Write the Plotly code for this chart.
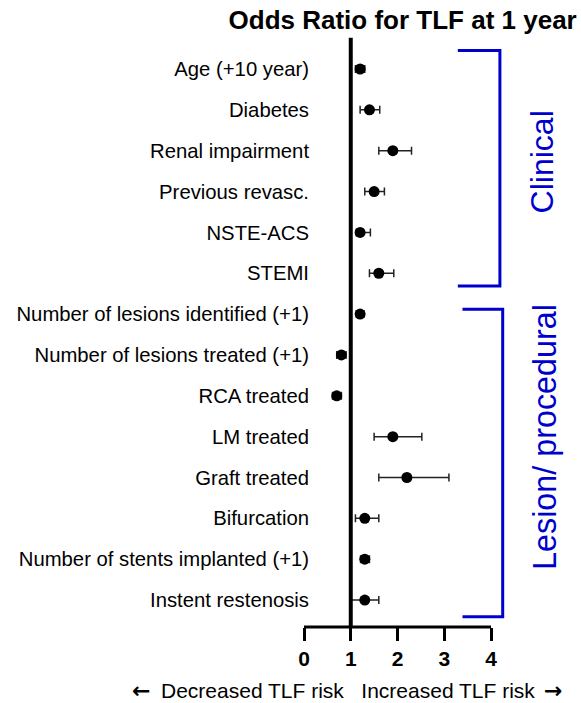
import plotly.graph_objects as go

# Risk factors (top to bottom) with odds ratio and 95% CI
factors = [
    "Age (+10 year)",
    "Diabetes",
    "Renal impairment",
    "Previous revasc.",
    "NSTE-ACS",
    "STEMI",
    "Number of lesions identified (+1)",
    "Number of lesions treated (+1)",
    "RCA treated",
    "LM treated",
    "Graft treated",
    "Bifurcation",
    "Number of stents implanted (+1)",
    "Instent restenosis",
]
odds_ratio = [1.2, 1.4, 1.9, 1.5, 1.2, 1.6, 1.2, 0.8, 0.7, 1.9, 2.2, 1.3, 1.3, 1.3]
ci_low = [1.1, 1.2, 1.6, 1.3, 1.12, 1.4, 1.12, 0.7, 0.61, 1.5, 1.6, 1.1, 1.21, 1.0]
ci_high = [1.3, 1.62, 2.3, 1.72, 1.42, 1.92, 1.28, 0.9, 0.8, 2.52, 3.1, 1.6, 1.4, 1.6]

x_ticks = [0, 1, 2, 3, 4]

FONT = "Liberation Sans, Arial, Helvetica, sans-serif"
ARROW_FONT = "DejaVu Sans, sans-serif"
BLUE = "#0000CC"

err_plus = [h - m for h, m in zip(ci_high, odds_ratio)]
err_minus = [m - l for m, l in zip(odds_ratio, ci_low)]

fig = go.Figure()
fig.add_trace(go.Scatter(
    x=odds_ratio,
    y=factors,
    mode="markers",
    marker=dict(size=11, color="black"),
    error_x=dict(type="data", symmetric=False, array=err_plus, arrayminus=err_minus,
                 color="#222222", thickness=1.5, width=4),
    showlegend=False,
    cliponaxis=False,
))

shapes = [
    # reference line at OR = 1
    dict(type="line", xref="x", yref="paper", x0=1, x1=1, y0=0, y1=1.004,
         line=dict(color="black", width=4)),
    # x axis baseline
    dict(type="line", xref="x", yref="paper", x0=0, x1=4, y0=0, y1=0,
         line=dict(color="black", width=3)),
    # "Clinical" bracket
    dict(type="path", xref="x", yref="y",
         path="M 3.29,-0.45 L 4.19,-0.45 L 4.19,5.31 L 3.29,5.31",
         line=dict(color=BLUE, width=3)),
    # "Lesion/ procedural" bracket
    dict(type="path", xref="x", yref="y",
         path="M 3.39,5.88 L 4.25,5.88 L 4.25,13.41 L 3.39,13.41",
         line=dict(color=BLUE, width=3)),
]

CAPTION_Y = -0.1075

annotations = [
    dict(text="Clinical", xref="paper", yref="paper", x=1.125, y=0.793,
         textangle=-90, showarrow=False, xanchor="center", yanchor="middle",
         font=dict(family=FONT, size=32, color=BLUE)),
    dict(text="Lesion/ procedural", xref="paper", yref="paper", x=1.14, y=0.324,
         textangle=-90, showarrow=False, xanchor="center", yanchor="middle",
         font=dict(family=FONT, size=32.3, color=BLUE)),
    # direction caption under the x axis
    dict(text="Decreased TLF risk\u00a0\u00a0\u00a0Increased TLF risk",
         xref="paper", yref="paper", x=0.221, y=CAPTION_Y, showarrow=False,
         xanchor="center", yanchor="middle", borderpad=0,
         font=dict(family=FONT, size=21, color="black")),
    dict(text="\u2190", xref="paper", yref="paper", x=-0.7395, y=CAPTION_Y, showarrow=False,
         xanchor="center", yanchor="middle", borderpad=0,
         font=dict(family=ARROW_FONT, size=22, color="black", weight="bold")),
    dict(text="\u2192", xref="paper", yref="paper", x=1.1767, y=CAPTION_Y, showarrow=False,
         xanchor="center", yanchor="middle", borderpad=0,
         font=dict(family=ARROW_FONT, size=22, color="black", weight="bold")),
]

fig.update_layout(
    width=581,
    height=703,
    margin=dict(l=300, r=66, t=40, b=76),
    paper_bgcolor="white",
    plot_bgcolor="white",
    title=dict(text="Odds Ratio for TLF at 1 year", xref="container", yref="container",
               x=0.693, y=0.972, xanchor="center", yanchor="middle",
               font=dict(family=FONT, size=26, color="black", weight="bold")),
    xaxis=dict(
        range=[-0.0856, 4.513],
        tickvals=x_ticks,
        ticktext=[str(t) for t in x_ticks],
        ticks="outside", ticklen=13, tickwidth=3, tickcolor="black",
        tickfont=dict(family=FONT, size=21, color="black", weight="bold"),
        showline=False, showgrid=False, zeroline=False,
    ),
    yaxis=dict(
        type="category",
        categoryorder="array",
        categoryarray=factors,
        range=[13.66, -0.71],
        anchor="free",
        position=0.042,
        ticks="",
        showline=False, showgrid=False, zeroline=False,
        tickfont=dict(family=FONT, size=20.3, color="black"),
    ),
    shapes=shapes,
    annotations=annotations,
)

fig.write_html("out.html")
